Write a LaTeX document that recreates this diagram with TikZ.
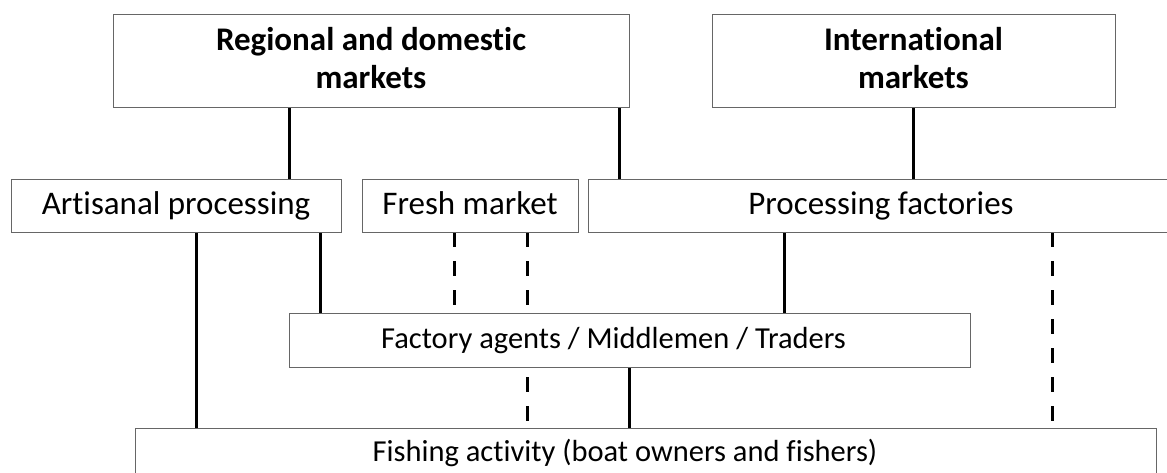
\documentclass[tikz,border=0pt]{standalone}
\usepackage{fontspec}
\setmainfont{Carlito}[Ligatures=NoCommon]
\usetikzlibrary{backgrounds}
\begin{document}
\begin{tikzpicture}[x=1pt,y=-1pt,
  box/.style={draw=black!60, line width=0.9pt, fill=white, inner sep=0pt,
    font=\fontsize{33}{38}\selectfont, text height=24pt, text depth=7pt},
  lowbox/.style={box, font=\fontsize{30.5}{36}\selectfont, text height=22pt, text depth=5pt},
  topbox/.style={draw=black!60, line width=0.9pt, fill=white, inner sep=0pt,
    font=\bfseries\fontsize{33}{38}\selectfont, align=center, text depth=6pt},
  link/.style={line width=3pt},
  dlink/.style={line width=3pt, dash pattern=on 15pt off 14pt}]
\useasboundingbox (0,0) rectangle (1167,472);

\node[topbox, minimum width=516pt, minimum height=93pt] (reg) at (371,60.5)
  {Regional and domestic\\markets};
\node[topbox, minimum width=403pt, minimum height=93pt] (intl) at (913.5,60.5)
  {International\\markets};
\node[box, minimum width=330pt, minimum height=53pt] (art) at (176,205.5)
  {Artisanal processing};
\node[box, minimum width=216pt, minimum height=53pt] (fresh) at (470,205.5)
  {Fresh market};
\node[box, minimum width=586pt, minimum height=53pt] (proc) at (881,205.5)
  {Processing factories};
\node[lowbox, minimum width=681pt, minimum height=54pt] (agents) at (629.5,340)
  {Factory agents / Middlemen / Traders\hspace*{32pt}};
\node[lowbox, minimum width=1021pt, minimum height=50pt] (fish) at (645.5,453)
  {Fishing activity (boat owners and fishers)\hspace*{41pt}};

\begin{scope}[on background layer]
  \draw[link] (reg.south -| 289,0) -- (art.north -| 289,0);
  \draw[link] (reg.south -| 619,0) -- (proc.north -| 619,0);
  \draw[link] (intl.south -| 913,0) -- (proc.north -| 913,0);
  \draw[link] (art.south -| 196,0) -- (fish.north -| 196,0);
  \draw[link] (art.south -| 320,0) -- (agents.north -| 320,0);
  \draw[link] (proc.south -| 784,0) -- (agents.north -| 784,0);
  \draw[link] (agents.south -| 629,0) -- (fish.north -| 629,0);
  \draw[dlink] (fresh.south -| 454,0) -- (agents.north -| 454,0);
  \draw[dlink] (fresh.south -| 527,0) -- (fish.north -| 527,0);
  \draw[dlink] (proc.south -| 1052,0) -- (fish.north -| 1052,0);
\end{scope}
\end{tikzpicture}
\end{document}
